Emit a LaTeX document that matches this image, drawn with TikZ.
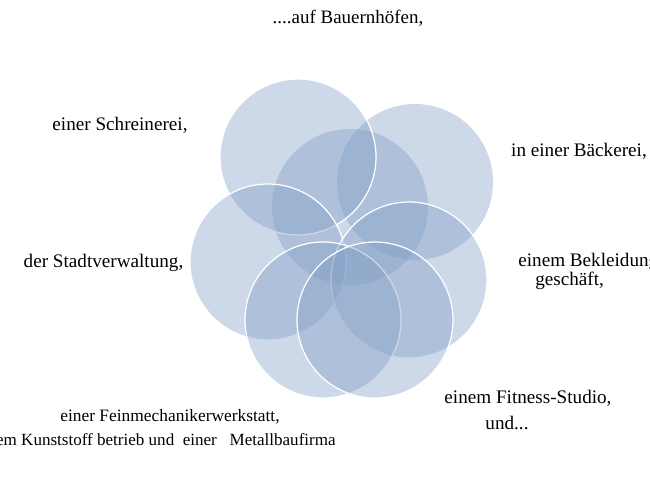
\documentclass[tikz,border=0pt]{standalone}
\usepackage{fontspec}
\usepackage{xcolor}
\setmainfont{Liberation Serif}
\definecolor{petalblue}{RGB}{130,158,197}

\begin{document}
\begin{tikzpicture}[x=0.02cm,y=-0.02cm,
    petal/.style={circle, minimum size=3.12cm, inner sep=0pt, fill=petalblue, fill opacity=0.4, draw=white, draw opacity=1, line width=0.7pt},
    plain/.style={circle, minimum size=3.12cm, inner sep=0pt, fill=petalblue, fill opacity=0.4},
    label/.style={inner sep=0pt, font=\fontsize{10.9}{12}\selectfont}]
\useasboundingbox (0,0) rectangle (650,480);

\node[plain] (mid) at (350,207) {};
\node[plain] (topright) at (415,182) {};
\node[petal] (topleft) at (298,157) {};
\node[petal] (left) at (268,262) {};
\node[petal] (right) at (409,280) {};
\node[petal] (bottomleft) at (323,320) {};
\node[petal] (bottomright) at (375,320) {};

\node[label, font=\fontsize{10.8}{12}\selectfont] (bauernhof) at (348,18) {....auf Bauernhöfen,};
\node[label] (schreinerei) at (120,125) {einer Schreinerei,};
\node[label] (baeckerei) at (579,151) {in einer Bäckerei,};
\node[label] (stadt) at (103.5,263) {der Stadtverwaltung,};
\node[label, anchor=west] (bekleidung) at (518,262) {einem Bekleidung};
\node[label, anchor=west] (geschaeft) at (535,281) {geschäft,};
\node[label] (fitness) at (528,398) {einem Fitness-Studio,};
\node[label] (und) at (507,423) {und...};
\node[label, font=\fontsize{9.9}{12}\selectfont] (fein) at (170,417) {einer Feinmechanikerwerkstatt,};
\node[label, font=\fontsize{9.7}{12}\selectfont, anchor=east] (kunststoff) at (336,440) {einem Kunststoff betrieb und\ \ einer\ \ \ Metallbaufirma};

\end{tikzpicture}
\end{document}
